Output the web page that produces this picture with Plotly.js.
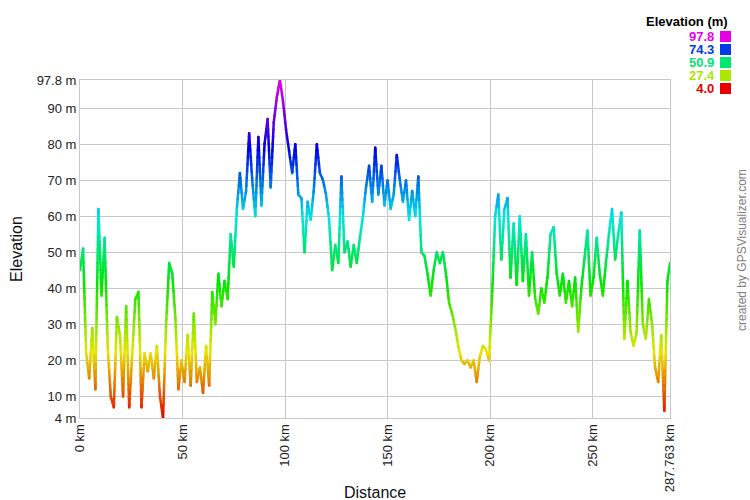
<!DOCTYPE html>
<html><head><meta charset="utf-8">
<script src="https://cdn.plot.ly/plotly-3.0.1.min.js"></script>
<style>html,body{margin:0;padding:0;background:#fff}#chart{width:750px;height:500px}
#chart path.js-line{stroke-linecap:round !important;stroke-linejoin:round !important}</style>
</head><body><div id="chart"></div>
<script>
// ---- data ----
const distanceKm = [
0,1.5,3,4.5,6,7.5,9,10.5,12,13.5,
15,16.5,18,19.5,21,22.5,24,25.5,27,28.5,
30,31.5,33,34.5,36,37.5,39,40.5,42,43.5,
45,46.5,48,49.5,51,52.5,54,55.5,57,58.5,
60,61.5,63,64.5,66,67.5,69,70.5,72,73.5,
75,76.5,78,79.5,81,82.5,84,85.5,87,88.5,
90,91.5,93,94.5,96,97.5,99,100.5,102,103.5,
105,106.5,108,109.5,111,112.5,114,115.5,117,118.5,
120,121.5,123,124.5,126,127.5,129,130.5,132,133.5,
135,136.5,138,139.5,141,142.5,144,145.5,147,148.5,
150,151.5,153,154.5,156,157.5,159,160.5,162,163.5,
165,166.5,168,169.5,171,172.5,174,175.5,177,178.5,
180,181.5,183,184.5,186,187.5,189,190.5,192,193.5,
195,196.5,198,199.5,201,202.5,204,205.5,207,208.5,
210,211.5,213,214.5,216,217.5,219,220.5,222,223.5,
225,226.5,228,229.5,231,232.5,234,235.5,237,238.5,
240,241.5,243,244.5,246,247.5,249,250.5,252,253.5,
255,256.5,258,259.5,261,262.5,264,265.5,267,268.5,
270,271.5,273,274.5,276,277.5,279,280.5,282,283.5,
285,286.5,287.763];
const elevationM = [
45,51,22,15,29,12,62,38,54,24,
10,7,32,27,10,35,7,22,37,39,
7,22,17,22,15,24,10,4,30,47,
44,32,12,20,14,27,13,33,14,18,
11,24,13,39,30,44,35,42,37,55,
46,62,72,62,67,83,70,60,82,63,
80,87,68,86,93,97.8,92,84,78,72,
80,66,65,50,64,59,67,80,72,70,
66,59,45,52,47,71,50,53,46,52,
47,54,60,68,74,64,79,66,74,63,
70,62,66,77,70,64,70,59,67,60,
71,50,49,44,38,45,50,47,50,44,
36,33,29,24,20,19,20,18,20,14,
21,24,23,20,38,60,66,48,62,65,
43,58,41,60,42,55,38,50,37,33,
40,36,43,55,57,44,38,44,36,42,
35,43,28,40,48,56,38,43,54,44,
38,47,55,62,48,55,61,26,42,28,
24,28,56,30,26,37,30,18,14,27,
6,42,47];
const yTickVals = [4,10,20,30,40,50,60,70,80,90,97.8];
const yTickText = ["4 m","10 m","20 m","30 m","40 m","50 m","60 m","70 m","80 m","90 m","97.8 m"];
const xTickVals = [0,50,100,150,200,250,287.763];
const xTickText = ["0 km","50 km","100 km","150 km","200 km","250 km","287.763 km"];
const legendValues = [97.8,74.3,50.9,27.4,4.0];
const legendLabels = ["97.8","74.3","50.9","27.4","4.0"];

// ---- styling helpers ----
const eMin = Math.min(...elevationM), eMax = Math.max(...elevationM);
function colorFor(v){
  const t = Math.max(0, Math.min(1, (v - eMin) / (eMax - eMin)));
  return 'hsl(' + (300 * t).toFixed(1) + ',100%,45%)';
}
// colour each piece of the profile line by its elevation band
const NB = 48, binW = (eMax - eMin) / NB;
const binOf = v => Math.max(0, Math.min(NB - 1, Math.floor((v - eMin) / binW)));
const bx = Array.from({length: NB}, () => []);
const by = Array.from({length: NB}, () => []);
for (let i = 0; i < elevationM.length - 1; i++) {
  const x0 = distanceKm[i], y0 = elevationM[i], x1 = distanceKm[i+1], y1 = elevationM[i+1];
  const lo = Math.min(y0, y1), hi = Math.max(y0, y1);
  const ts = [0, 1];
  for (let k = 1; k < NB; k++) {
    const e = eMin + k * binW;
    if (e > lo && e < hi) ts.push((e - y0) / (y1 - y0));
  }
  ts.sort((a, b) => a - b);
  for (let j = 0; j < ts.length - 1; j++) {
    const ta = ts[j], tb = ts[j+1];
    const xa = x0 + ta * (x1 - x0), xb = x0 + tb * (x1 - x0);
    const ya = y0 + ta * (y1 - y0), yb = y0 + tb * (y1 - y0);
    const b = binOf((ya + yb) / 2);
    bx[b].push(xa, xb, null); by[b].push(ya, yb, null);
  }
}
const traces = [];
for (let b = 0; b < NB; b++) {
  if (!bx[b].length) continue;
  traces.push({type: 'scatter', mode: 'lines', x: bx[b], y: by[b], connectgaps: false,
    line: {color: colorFor(eMin + (b + 0.5) * binW), width: 2.5},
    hoverinfo: 'skip', showlegend: false});
}

const W = 750, H = 500, ML = 80, MR = 80, MT = 80, MB = 82;
const pw = W - ML - MR, ph = H - MT - MB;
const px = p => (p - ML) / pw, py = p => (H - MB - p) / ph;
const FONT = 'Arial, "Liberation Sans", sans-serif';

const legendText = legendValues.map((v, k) =>
  '<span style="color:' + colorFor(v) + ';font-size:13px"><b>' + legendLabels[k] + '</b></span>').join('<br>');

const annotations = [
  {text: 'Distance', xref: 'paper', yref: 'paper', x: px(375), y: py(492), xanchor: 'center', yanchor: 'middle',
   showarrow: false, font: {family: FONT, size: 16, color: '#111'}},
  {text: 'created by GPSVisualizer.com', xref: 'paper', yref: 'paper', x: px(742), y: py(250), xanchor: 'center', yanchor: 'middle',
   textangle: -90, showarrow: false, font: {family: FONT, size: 12, color: '#808080'}},
  {text: '<b>Elevation (m)</b>', xref: 'paper', yref: 'paper', x: px(730), y: py(21), xanchor: 'right', yanchor: 'middle',
   showarrow: false, font: {family: FONT, size: 13, color: '#000'}},
  {text: legendText, xref: 'paper', yref: 'paper', x: px(716), y: py(62.5), xanchor: 'right', yanchor: 'middle',
   align: 'right', showarrow: false, borderpad: 0, font: {family: FONT, size: 10, color: '#000'}}
];
const shapes = [];
const rowY = [36.5, 49.5, 62.5, 75.5, 88.5];
legendValues.forEach((v, k) => {
  shapes.push({type: 'rect', xref: 'paper', yref: 'paper', x0: px(720), x1: px(731), y0: py(rowY[k] + 5.5), y1: py(rowY[k] - 5.5),
    fillcolor: colorFor(v), line: {width: 0}});
});

const axisCommon = {showgrid: true, gridcolor: '#c8c8c8', gridwidth: 1, showline: true, mirror: true,
  linecolor: '#c8c8c8', linewidth: 1, zeroline: false, ticks: '', fixedrange: true,
  tickfont: {family: FONT, size: 13, color: '#222'}};

const layout = {
  width: W, height: H, margin: {l: ML, r: MR, t: MT, b: MB, autoexpand: false},
  paper_bgcolor: '#fff', plot_bgcolor: '#fff', showlegend: false,
  font: {family: FONT},
  xaxis: Object.assign({}, axisCommon, {range: [0, 287.763], tickmode: 'array', tickvals: xTickVals, ticktext: xTickText,
    tickangle: -90, automargin: false}),
  yaxis: Object.assign({}, axisCommon, {range: [eMin, eMax], tickmode: 'array', tickvals: yTickVals, ticktext: yTickText,
    automargin: false, title: {text: 'Elevation', font: {family: FONT, size: 16, color: '#111'}, standoff: 10}}),
  annotations: annotations, shapes: shapes
};
Plotly.newPlot('chart', traces, layout, {staticPlot: true, displayModeBar: false});
</script>
</body></html>
